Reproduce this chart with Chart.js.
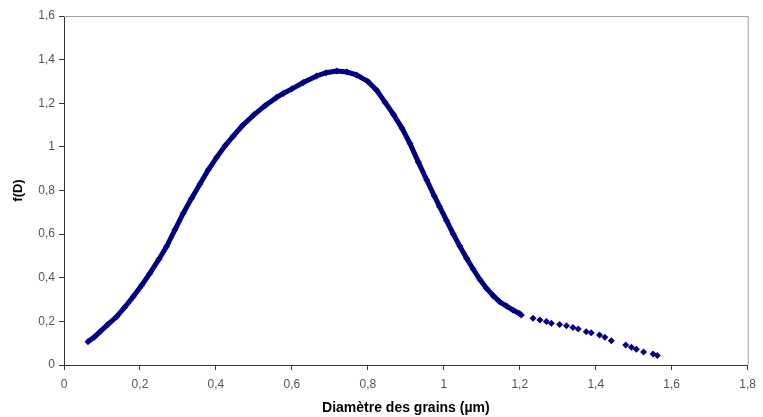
<!DOCTYPE html>
<html>
<head>
<meta charset="utf-8">
<script src="https://cdn.jsdelivr.net/npm/chart.js@4/dist/chart.umd.min.js"></script>
<style>
  html, body { margin:0; padding:0; background:#fff; }
  #wrap { width:763px; height:417px; }
</style>
</head>
<body>
<div id="wrap"><canvas id="chart"></canvas></div>
<script>
// DATA

const diameter = [
  0.063, 0.08, 0.095, 0.115, 0.139, 0.16, 0.182, 0.205, 0.226, 0.25,
  0.27, 0.292, 0.314, 0.336, 0.358, 0.38, 0.402, 0.424, 0.446, 0.47,
  0.5, 0.53, 0.56, 0.577, 0.6, 0.63, 0.665, 0.69, 0.718, 0.745,
  0.77, 0.8, 0.823, 0.845, 0.867, 0.89, 0.911, 0.933, 0.955, 0.975,
  0.989, 1.007, 1.025, 1.042, 1.06, 1.077, 1.095, 1.112, 1.13, 1.147,
  1.165, 1.182, 1.2
];
const fD = [
  0.107, 0.128, 0.153, 0.185, 0.222, 0.265, 0.313, 0.367, 0.42, 0.485,
  0.543, 0.62, 0.696, 0.765, 0.83, 0.895, 0.952, 1.005, 1.05, 1.098,
  1.147, 1.19, 1.227, 1.245, 1.266, 1.295, 1.325, 1.34, 1.348, 1.343,
  1.33, 1.3, 1.26, 1.205, 1.15, 1.085, 1.015, 0.93, 0.848, 0.775,
  0.726, 0.663, 0.6, 0.545, 0.489, 0.44, 0.392, 0.352, 0.318, 0.29,
  0.27, 0.252, 0.235
];

const tailDiameter = [
  1.204, 1.235, 1.253, 1.27, 1.283, 1.305, 1.323, 1.34, 1.354, 1.375,
  1.388, 1.41, 1.424, 1.441, 1.479, 1.494, 1.507, 1.526, 1.551, 1.562
];
const tailFD = [
  0.229, 0.214, 0.206, 0.199, 0.191, 0.186, 0.18, 0.172, 0.165, 0.153,
  0.148, 0.138, 0.127, 0.111, 0.092, 0.081, 0.072, 0.06, 0.05, 0.044
];

const xTicks = [0, 0.2, 0.4, 0.6, 0.8, 1, 1.2, 1.4, 1.6, 1.8];
const yTicks = [0, 0.2, 0.4, 0.6, 0.8, 1, 1.2, 1.4, 1.6];

const navy = '#000080';

function toPoints(xs, ys){
  return xs.map((x, i) => ({x:x, y:ys[i]}));
}

function frName(v){
  return String(Number(v.toFixed(1))).replace('.', ',');
}

// top and right frame lines
const framePlugin = {
  id:'frame',
  afterDraw(chart){
    const a = chart.chartArea;
    const c = chart.ctx;
    c.save();
    c.strokeStyle = '#a0a0a0';
    c.lineWidth = 1;
    c.beginPath();
    c.moveTo(a.left, a.top + 0.5);
    c.lineTo(a.right + 0.5, a.top + 0.5);
    c.lineTo(a.right + 0.5, a.bottom);
    c.stroke();
    c.restore();
  }
};

const ctx = document.getElementById('chart');
new Chart(ctx, {
  type:'scatter',
  data:{
    datasets:[{
      data:toPoints(diameter, fD),
      showLine:true,
      borderColor:navy,
      borderWidth:5,
      backgroundColor:navy,
      pointStyle:'rectRot',
      pointRadius:3.5,
      pointBorderWidth:0
    },{
      data:toPoints(tailDiameter, tailFD),
      showLine:false,
      backgroundColor:navy,
      borderColor:navy,
      pointStyle:'rectRot',
      pointRadius:3.5,
      pointBorderWidth:0
    }]
  },
  options:{
    responsive:true,
    maintainAspectRatio:false,
    animation:false,
    layout:{ padding:{ top:16, right:15, left:0, bottom:0 } },
    plugins:{
      legend:{ display:false },
      tooltip:{ enabled:false }
    },
    scales:{
      x:{
        type:'linear',
        min:0, max:1.8,
        afterBuildTicks(scale){ scale.ticks = xTicks.map(v => ({value:v})); },
        afterFit(scale){ scale.height = 52; },
        grid:{ drawOnChartArea:false, drawTicks:true, tickLength:5, color:'#333' },
        border:{ color:'#333', width:1 },
        ticks:{
          color:'#555',
          padding:7,
          maxRotation:0,
          font:{ family:'"Liberation Sans", Arial, sans-serif', size:12 },
          callback:(v) => frName(v)
        },
        title:{
          display:true,
          text:'Diamètre des grains (µm)',
          color:'#000',
          padding:{ top:2, bottom:0 },
          font:{ family:'"Liberation Sans", Arial, sans-serif', size:14, weight:'bold' }
        }
      },
      y:{
        type:'linear',
        min:0, max:1.6,
        afterBuildTicks(scale){ scale.ticks = yTicks.map(v => ({value:v})); },
        afterFit(scale){ scale.width = 64; },
        grid:{ drawOnChartArea:false, drawTicks:true, tickLength:5, color:'#333' },
        border:{ color:'#333', width:1 },
        ticks:{
          color:'#555',
          padding:4,
          font:{ family:'"Liberation Sans", Arial, sans-serif', size:12 },
          callback:(v) => frName(v)
        },
        title:{
          display:true,
          text:'f(D)',
          color:'#000',
          padding:{ top:11, bottom:0 },
          font:{ family:'"Liberation Sans", Arial, sans-serif', size:13, weight:'bold' }
        }
      }
    }
  },
  plugins:[framePlugin]
});
</script>
</body>
</html>
